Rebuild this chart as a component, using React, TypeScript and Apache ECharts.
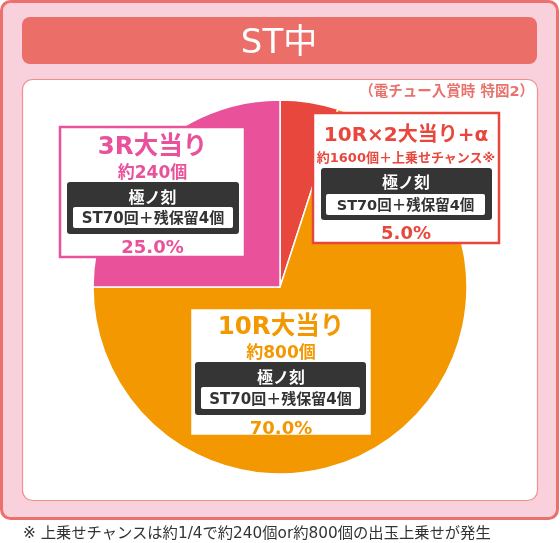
import React, { useEffect, useRef } from "react";
import * as echarts from "echarts";

// ---- data ----
const categories = ["10R×2大当り+α", "10R大当り", "3R大当り"];
const values = [5.0, 70.0, 25.0];
const payouts = ["約1600個＋上乗せチャンス※", "約800個", "約240個"];
const modeNames = ["極ノ刻", "極ノ刻", "極ノ刻"];
const stLabels = ["ST70回＋残保留4個", "ST70回＋残保留4個", "ST70回＋残保留4個"];
const sliceColors = ["#e8473e", "#f39800", "#e9529a"];
const titleText = "ST中";
const noteText = "（電チュー入賞時 特図2）";
const footerText = "※ 上乗せチャンスは約1/4で約240個or約800個の出玉上乗せが発生";

const FONT = '"DejaVu Sans", "Noto Sans CJK JP", "Noto Sans", sans-serif';

type BoxLayout = {
  x: number; y: number; w: number; h: number;
  titleY: number; titleSize: number;
  subY: number; subSize: number;
  dark: [number, number, number, number];
  modeY: number;
  inner: [number, number, number, number];
  stSize: number;
  pctY: number;
};

const layouts: BoxLayout[] = [
  { x: 313, y: 113, w: 186, h: 130, titleY: 134, titleSize: 20, subY: 157, subSize: 13,
    dark: [321, 168, 171, 52], modeY: 182, inner: [326, 194, 159, 21], stSize: 14.5, pctY: 232 },
  { x: 190, y: 308, w: 182, h: 128, titleY: 325, titleSize: 24.5, subY: 352, subSize: 17,
    dark: [195, 362, 171, 53], modeY: 377, inner: [201, 387, 159, 22], stSize: 15, pctY: 427 },
  { x: 60, y: 127, w: 185, h: 130, titleY: 145.5, titleSize: 24.5, subY: 171.5, subSize: 17,
    dark: [67, 182, 172, 52], modeY: 197, inner: [73, 207, 160, 21], stSize: 15, pctY: 246 },
];

function txt(text: string, x: number, y: number, size: number, fill: string, weight: any = "bold", align = "center", z = 100) {
  return {
    type: "text", z, silent: true,
    style: { text, x, y, fill, fontSize: size, lineHeight: size, fontWeight: weight, fontFamily: FONT, textAlign: align, textVerticalAlign: "middle" },
  };
}

function rect(x: number, y: number, w: number, h: number, r: number, fill: string, stroke?: string, lw = 0, z = 100) {
  return {
    type: "rect", z, silent: true,
    shape: { x, y, width: w, height: h, r },
    style: { fill, stroke: stroke || undefined, lineWidth: lw },
  };
}

export default function App() {
  const ref = useRef<HTMLDivElement>(null);
  useEffect(() => {
    if (!ref.current) return;
    const chart = echarts.init(ref.current, undefined, { renderer: "svg" });

    const graphics: any[] = [
      rect(1.5, 1.5, 556, 517, 9, "#f9d1dc", "#ec706b", 3, 0),
      rect(22, 17, 515, 47, 8, "#ec6e68", undefined, 0, 1),
      txt(titleText, 279, 41, 34, "#ffffff", "normal", "center", 2),
      rect(22.5, 79.5, 515, 421, 10, "#ffffff", "#f2908b", 1.2, 1),
      txt(noteText, 534, 91, 14.5, "#e9736c", "bold", "right", 2),
      txt(footerText, 23, 533, 15.3, "#333333", "normal", "left", 2),
    ];

    layouts.forEach((L, i) => {
      const c = sliceColors[i];
      const cx = L.x + L.w / 2;
      graphics.push(rect(L.x, L.y, L.w, L.h, 0, "#ffffff", c, 2.5));
      graphics.push(txt(categories[i], cx, L.titleY, L.titleSize, c, "bold"));
      graphics.push(txt(payouts[i], cx, L.subY, L.subSize, c, "bold"));
      graphics.push(rect(L.dark[0], L.dark[1], L.dark[2], L.dark[3], 3, "#353535"));
      graphics.push(txt(modeNames[i], cx, L.modeY, 16, "#ffffff", "bold"));
      graphics.push(rect(L.inner[0], L.inner[1], L.inner[2], L.inner[3], 2, "#ffffff"));
      graphics.push(txt(stLabels[i], L.inner[0] + L.inner[2] / 2, L.inner[1] + L.inner[3] / 2 + 0.5, L.stSize, "#333333", "bold"));
      graphics.push(txt(values[i].toFixed(1) + "%", cx, L.pctY, 18, c, "bold"));
    });

    chart.setOption({
      animation: false,
      graphic: { elements: graphics },
      series: [
        {
          type: "pie",
          z: 5,
          silent: true,
          center: [280, 287],
          radius: 187,
          startAngle: 90,
          clockwise: true,
          label: { show: false },
          labelLine: { show: false },
          itemStyle: { borderColor: "#ffffff", borderWidth: 1.5 },
          data: categories.map((name, i) => ({ name, value: values[i], itemStyle: { color: sliceColors[i] } })),
        },
      ],
    });
    return () => chart.dispose();
  }, []);

  return <div ref={ref} style={{ position: "fixed", left: 0, top: 0, width: 560, height: 543 }} />;
}
